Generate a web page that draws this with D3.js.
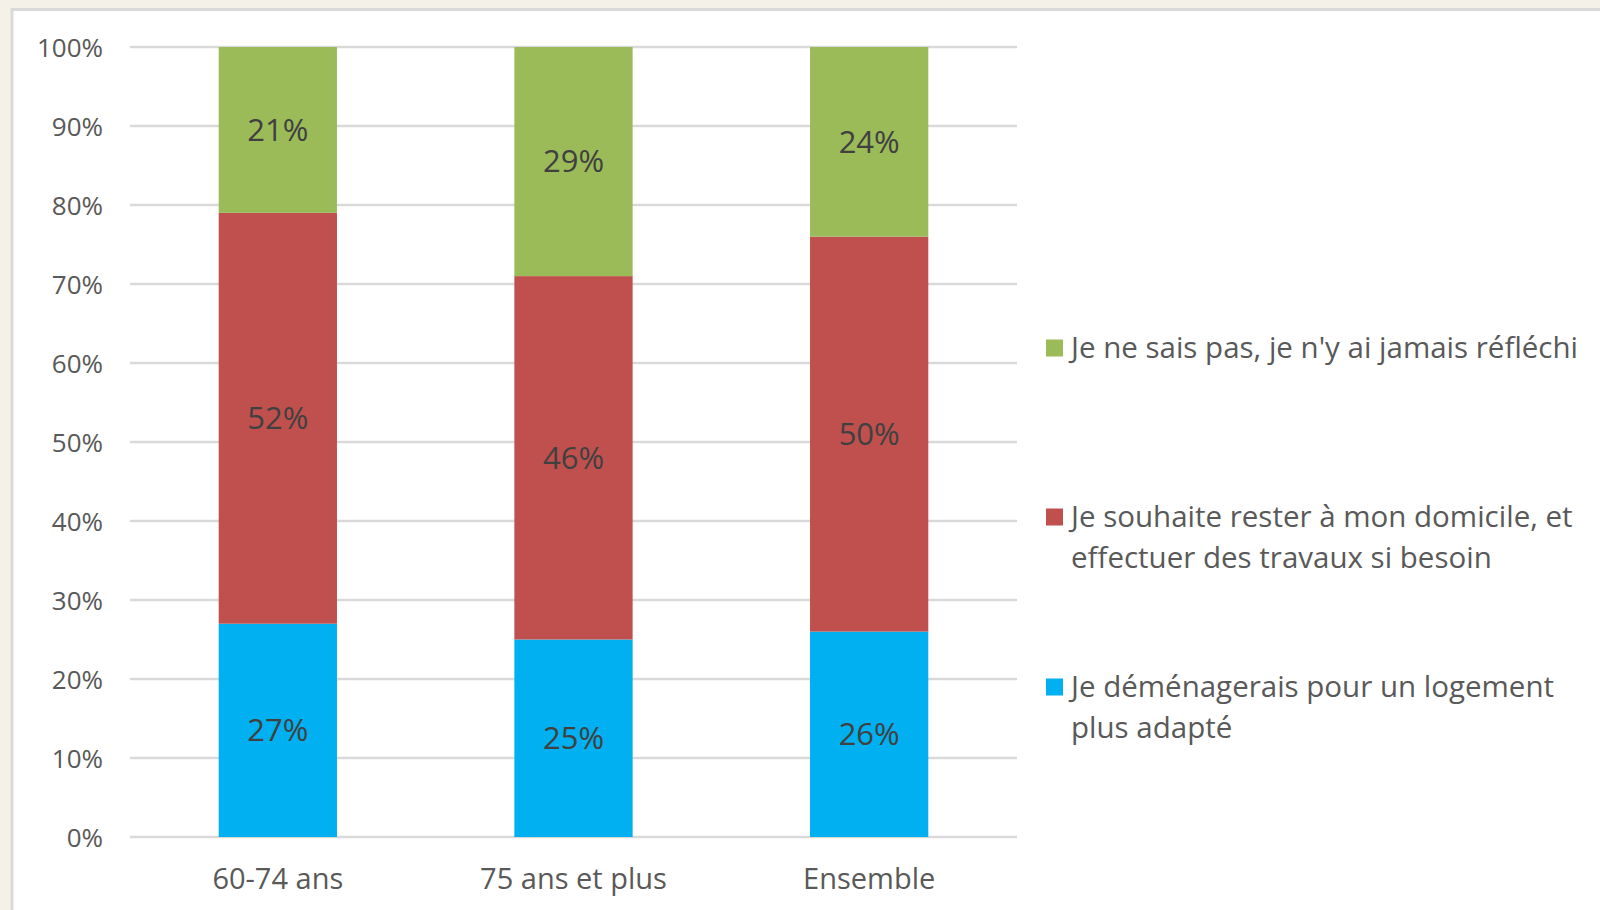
<!DOCTYPE html>
<html>
<head>
<meta charset="utf-8">
<script src="https://cdn.jsdelivr.net/npm/d3@7"></script>
<style>
  body { margin: 0; background: #f4f1e9; }
  svg { display: block; }
  text { font-family: "Open Sans", Lato, sans-serif; }
</style>
</head>
<body>
<svg id="chart" width="1600" height="910"></svg>
<script>
// Données
const categories = ['60-74 ans', '75 ans et plus', 'Ensemble'];
const seriesKeys = ['demenager', 'rester', 'nesaispas'];
const demenager = [27, 25, 26];
const rester = [52, 46, 50];
const nesaispas = [21, 29, 24];
const seriesColors = ['#00b0f0', '#c0504d', '#9bbb59'];
const legendLabels = [
    ['Je déménagerais pour un logement', 'plus adapté'],
    ['Je souhaite rester à mon domicile, et', 'effectuer des travaux si besoin'],
    ['Je ne sais pas, je n\'y ai jamais réfléchi']
];
const yTicks = [0, 10, 20, 30, 40, 50, 60, 70, 80, 90, 100];

const rows = categories.map((c, i) => ({
    cat: c,
    demenager: demenager[i],
    rester: rester[i],
    nesaispas: nesaispas[i]
}));

const svg = d3.select('#chart');

// Cadre blanc
svg.append('rect')
    .attr('x', 12).attr('y', 9.5)
    .attr('width', 1600).attr('height', 910)
    .attr('fill', '#ffffff')
    .attr('stroke', '#d9d9d9')
    .attr('stroke-width', 3);

const plot = {left: 130, right: 1017, top: 47, bottom: 837};

const x = d3.scaleBand()
    .domain(categories)
    .range([plot.left, plot.right])
    .paddingInner(0.6)
    .paddingOuter(0.3);

const y = d3.scaleLinear()
    .domain([0, 100])
    .range([plot.bottom, plot.top]);

// Grille
svg.append('g')
    .selectAll('line')
    .data(yTicks)
    .join('line')
    .attr('x1', plot.left)
    .attr('x2', plot.right)
    .attr('y1', d => y(d))
    .attr('y2', d => y(d))
    .attr('stroke', '#d9d9d9')
    .attr('stroke-width', 2.5);

// Axe Y
const yAxis = svg.append('g')
    .attr('transform', `translate(${plot.left - 27},0)`)
    .call(d3.axisLeft(y).tickValues(yTicks).tickFormat(d => d + '%').tickSize(0).tickPadding(0));
yAxis.select('.domain').remove();
yAxis.selectAll('text')
    .attr('fill', '#595959')
    .style('font-size', '26px')
    .attr('dy', '0.35em');

// Axe X
const xAxis = svg.append('g')
    .attr('transform', `translate(0,${plot.bottom})`)
    .call(d3.axisBottom(x).tickSize(0).tickPadding(0));
xAxis.select('.domain').remove();
xAxis.selectAll('text')
    .attr('fill', '#595959')
    .style('font-size', '29px')
    .attr('y', 42)
    .attr('dy', '0.35em');

// Barres empilées
const stacked = d3.stack().keys(seriesKeys)(rows);

const layers = svg.append('g')
    .selectAll('g')
    .data(stacked)
    .join('g')
    .attr('fill', (d, i) => seriesColors[i]);

layers.selectAll('rect')
    .data(d => d)
    .join('rect')
    .attr('x', d => x(d.data.cat))
    .attr('width', x.bandwidth())
    .attr('y', d => y(d[1]))
    .attr('height', d => y(d[0]) - y(d[1]));

layers.selectAll('text')
    .data(d => d)
    .join('text')
    .attr('x', d => x(d.data.cat) + x.bandwidth() / 2)
    .attr('y', d => (y(d[0]) + y(d[1])) / 2)
    .attr('dy', '0.35em')
    .attr('text-anchor', 'middle')
    .attr('fill', '#404040')
    .style('font-size', '31px')
    .text(d => (d[1] - d[0]) + '%');

// Légende
const legendY = [687, 517, 348];
const legend = svg.append('g')
    .selectAll('g')
    .data(seriesKeys)
    .join('g')
    .attr('transform', (d, i) => `translate(1046,${legendY[i]})`);

legend.append('rect')
    .attr('x', 0)
    .attr('y', -8.5)
    .attr('width', 17)
    .attr('height', 17)
    .attr('fill', (d, i) => seriesColors[i]);

legend.append('text')
    .attr('fill', '#595959')
    .style('font-size', '29.5px')
    .selectAll('tspan')
    .data((d, i) => legendLabels[i])
    .join('tspan')
    .attr('x', 25)
    .attr('y', (d, j) => 10 + j * 41)
    .text(d => d);
</script>
</body>
</html>
